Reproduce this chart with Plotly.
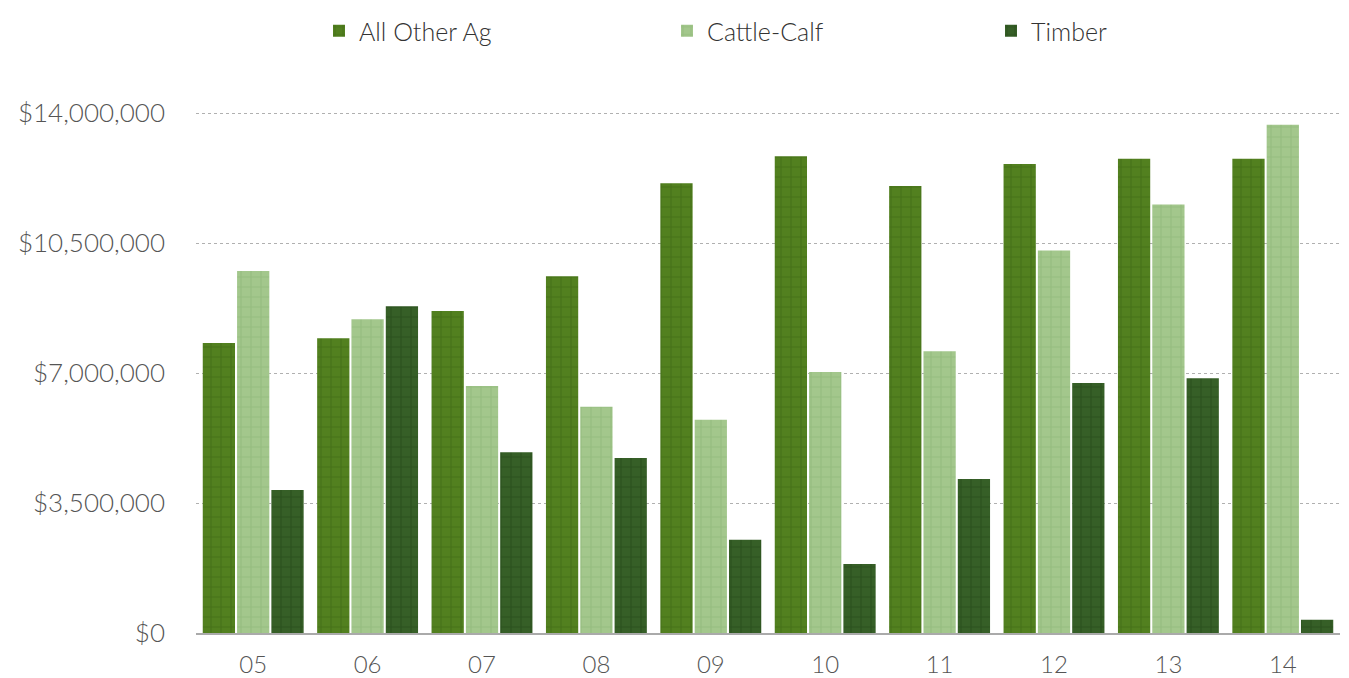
import plotly.graph_objects as go

years = ["05", "06", "07", "08", "09", "10", "11", "12", "13", "14"]
all_other_ag = [7.81e6, 7.94e6, 8.67e6, 9.61e6, 12.11e6, 12.84e6, 12.04e6, 12.63e6, 12.77e6, 12.77e6]
cattle_calf = [9.75e6, 8.45e6, 6.65e6, 6.09e6, 5.74e6, 7.03e6, 7.59e6, 10.30e6, 11.54e6, 13.69e6]
timber = [3.85e6, 8.80e6, 4.87e6, 4.71e6, 2.51e6, 1.86e6, 4.15e6, 6.73e6, 6.86e6, 0.36e6]
y_ticks = [0, 3.5e6, 7e6, 10.5e6, 14e6]
y_tick_text = ["$0", "$3,500,000", "$7,000,000", "$10,500,000", "$14,000,000"]

series = [
    ("All Other Ag", all_other_ag, "#52801f", "#3d6813", "legend2"),
    ("Cattle-Calf", cattle_calf, "#a3c78c", "#8cb575", "legend3"),
    ("Timber", timber, "#365f27", "#234818", "legend4"),
]

fig = go.Figure()
for name, vals, col, fg, lg in series:
    fig.add_trace(go.Bar(
        x=years, y=vals, name=name, legend=lg,
        marker=dict(color=col, line=dict(width=0),
                    pattern=dict(shape="+", fgcolor=fg, bgcolor=col, size=10,
                                 solidity=0.22, fgopacity=0.6)),
    ))

# page body has an 8px margin; figure is sized/positioned to compensate
W, H, OFF = 1341, 670, 8
font_family = "Lato, 'Noto Sans', sans-serif"
legend_font = dict(size=25, color="#333333", family=font_family, weight=300)

def leg(xpx):
    return dict(orientation="h", xref="container", yref="container",
                x=(xpx - OFF) / W, xanchor="left", y=1.0, yanchor="top",
                font=legend_font, itemwidth=30, bgcolor="rgba(0,0,0,0)")

fig.update_layout(
    width=W, height=H,
    barmode="group", bargap=0.1, bargroupgap=0.06,
    plot_bgcolor="white", paper_bgcolor="white",
    margin=dict(l=196 - OFF, r=W - (1340 - OFF), t=102 - OFF, b=H - (633 - OFF), autoexpand=False),
    font=dict(family=font_family, color="#555555", size=24, weight=300),
    showlegend=True,
    legend2=leg(319), legend3=leg(667), legend4=leg(991),
    xaxis=dict(showline=True, linecolor="#aaaaaa", linewidth=1.5, ticks="",
               automargin=False,
               tickfont=dict(size=24, color="#555555", weight=300), ticklabelstandoff=9),
    yaxis=dict(range=[0, 14.3e6], tickvals=y_ticks, ticktext=y_tick_text,
               showgrid=True, gridcolor="#b0b0b0", griddash="dot", gridwidth=1,
               zeroline=False, ticks="", ticklabelstandoff=30, automargin=False,
               tickfont=dict(size=26, color="#555555", weight=300)),
)
fig.write_html("out.html")
